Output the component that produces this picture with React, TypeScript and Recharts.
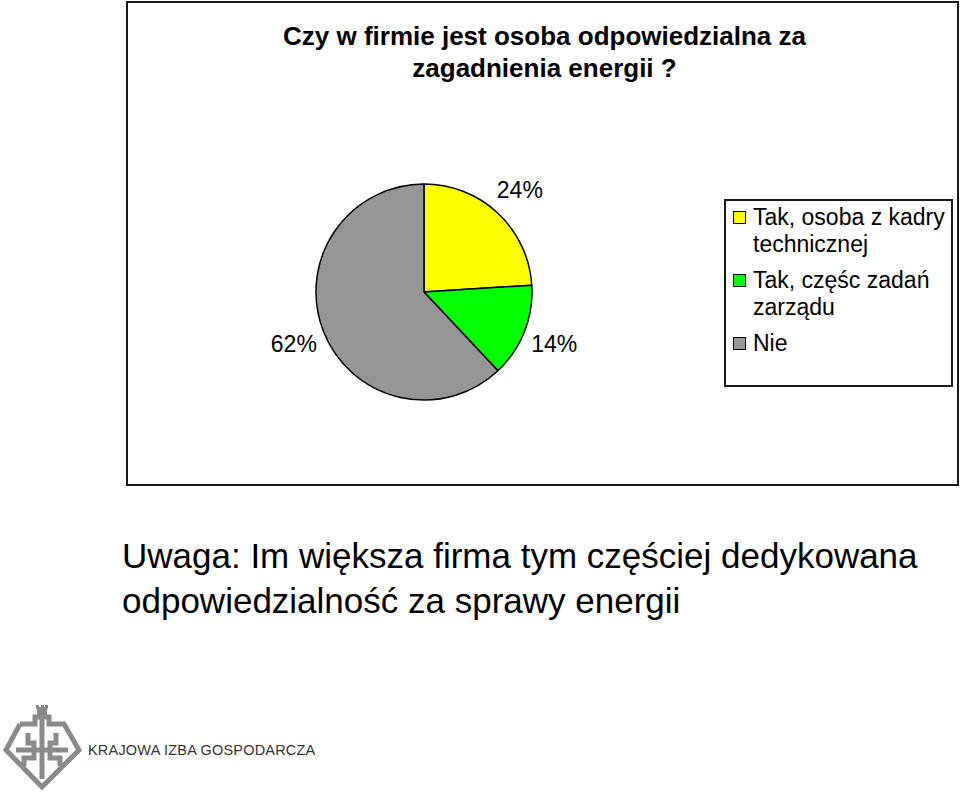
import React from 'react';
import { PieChart, Pie, Cell, Legend } from 'recharts';

// ankieta: odpowiedzialność za energię w firmie
const categories = ['Tak, osoba z kadry technicznej', 'Tak, częśc zadań zarządu', 'Nie'];
const shares = [24, 14, 62];
const sliceColors = ['#FFFF00', '#00FF00', '#969696'];

const chartTitle = ['Czy w firmie jest osoba odpowiedzialna za', 'zagadnienia energii ?'];
const noteLines = ['Uwaga: Im większa firma tym częściej dedykowana', 'odpowiedzialność za sprawy energii'];
const logoText = 'KRAJOWA IZBA GOSPODARCZA';

const data = categories.map((name, i) => ({ name, value: shares[i] }));

const RAD = Math.PI / 180;
const FONT = 'Arial, "Liberation Sans", sans-serif';

const renderLabel = (props: any) => {
  const { cx, cy, midAngle, outerRadius, value } = props;
  const r = outerRadius + 32;
  const x = cx + r * Math.cos(-midAngle * RAD);
  const y = cy + r * Math.sin(-midAngle * RAD);
  return (
    <text
      x={x}
      y={y}
      textAnchor="middle"
      dominantBaseline="central"
      fontSize={23}
      fontFamily={FONT}
      fill="#000"
    >
      {value}%
    </text>
  );
};

const LegendBox = (props: any) => {
  const payload = [...(props.payload || [])].sort(
    (a: any, b: any) => categories.indexOf(a.value) - categories.indexOf(b.value)
  );
  return (
    <div
      style={{
        boxSizing: 'border-box',
        width: 229,
        height: 188,
        border: '2px solid #1a1a1a',
        background: '#fff',
        paddingTop: 3,
        fontFamily: FONT,
        fontSize: 23,
        lineHeight: '27px',
        color: '#000',
      }}
    >
      {payload.map((p: any, i: number) => (
        <div key={i} style={{ position: 'relative', paddingLeft: 27, marginBottom: 9, width: 198 }}>
          <span
            style={{
              position: 'absolute',
              left: 7,
              top: 7,
              width: 11,
              height: 11,
              border: '1px solid #000',
              background: p.color,
            }}
          />
          {p.value}
        </div>
      ))}
    </div>
  );
};

const Logo = () => (
  <svg width={90} height={90} style={{ position: 'absolute', left: 0, top: 703 }}>
    <g fill="none" stroke="#8a8a8a" strokeWidth={5} strokeLinejoin="miter">
      <polyline points="20,21 35,21 35,14 49,14 49,21 64,21 79,47 42,84 6,47 20,21" />
      <polyline points="42,14 42,76" />
      <polyline points="16,47 68,47" />
      <polyline points="28,30 28,40 34,40 34,55 24,55 24,63" />
      <polyline points="56,30 56,40 50,40 50,55 60,55 60,63" />
    </g>
    <g fill="#8a8a8a">
      <rect x={37} y={4} width={10} height={9} />
      <rect x={36} y={2} width={3} height={4} />
      <rect x={41} y={2} width={3} height={4} />
      <rect x={45} y={2} width={3} height={4} />
    </g>
  </svg>
);

export default function App() {
  return (
    <div style={{ position: 'absolute', left: 0, top: 0, width: 960, height: 793, background: '#fff' }}>
      <div
        style={{
          position: 'absolute',
          left: 126,
          top: 1,
          width: 833,
          height: 485,
          boxSizing: 'border-box',
          border: '2px solid #1a1a1a',
          background: '#fff',
        }}
      >
        <div
          style={{
            position: 'absolute',
            left: 0,
            top: 17,
            width: 833,
            textAlign: 'center',
            fontFamily: FONT,
            fontWeight: 'bold',
            fontSize: 26,
            lineHeight: '32px',
            color: '#000',
          }}
        >
          {chartTitle.map((t, i) => (
            <div key={i}>{t}</div>
          ))}
        </div>
        <div style={{ position: 'absolute', left: 0, top: 0 }}>
          <PieChart width={829} height={481}>
            <Pie
              data={data}
              dataKey="value"
              nameKey="name"
              cx={291}
              cy={284}
              outerRadius={108}
              startAngle={90}
              endAngle={-270}
              stroke="#000"
              strokeWidth={1.5}
              label={renderLabel}
              labelLine={false}
              isAnimationActive={false}
            >
              {data.map((d, i) => (
                <Cell key={d.name} fill={sliceColors[i]} />
              ))}
            </Pie>
            <Legend
              content={<LegendBox />}
              wrapperStyle={{ left: 596, top: 196, width: 229, height: 188 }}
            />
          </PieChart>
        </div>
      </div>
      <div
        style={{
          position: 'absolute',
          left: 122,
          top: 533,
          fontFamily: FONT,
          fontSize: 35,
          lineHeight: '45px',
          color: '#000',
          whiteSpace: 'nowrap',
        }}
      >
        {noteLines.map((t, i) => (
          <div key={i}>{t}</div>
        ))}
      </div>
      <Logo />
      <div
        style={{
          position: 'absolute',
          left: 88,
          top: 741,
          fontFamily: FONT,
          fontSize: 14.5,
          lineHeight: '18px',
          color: '#333',
          letterSpacing: 0.2,
          whiteSpace: 'nowrap',
        }}
      >
        {logoText}
      </div>
    </div>
  );
}
